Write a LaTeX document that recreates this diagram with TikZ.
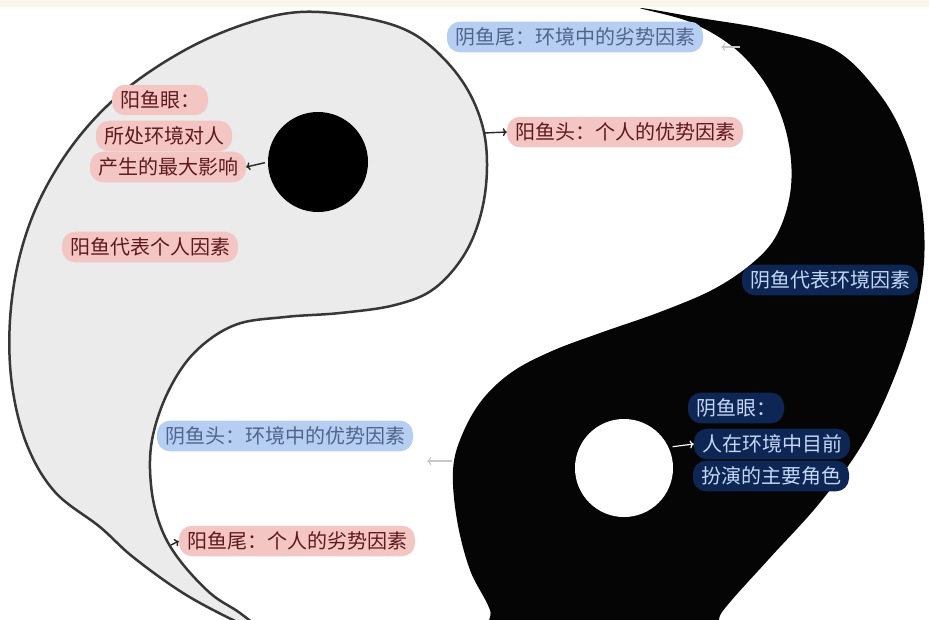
\documentclass[tikz,border=0pt]{standalone}
\usepackage{fontspec}
\setmainfont{Noto Sans CJK SC}
\usetikzlibrary{arrows.meta}
\definecolor{yangfill}{RGB}{235,235,235}
\definecolor{yangline}{RGB}{55,55,55}
\definecolor{yinfill}{RGB}{5,5,5}
\definecolor{pinkfill}{RGB}{243,198,196}
\definecolor{pinktext}{RGB}{95,25,30}
\definecolor{skyfill}{RGB}{182,206,242}
\definecolor{skytext}{RGB}{80,100,140}
\definecolor{navyfill}{RGB}{14,38,84}
\definecolor{navytext}{RGB}{195,215,245}
\definecolor{topband}{RGB}{250,246,236}
\begin{document}
\begin{tikzpicture}[x=1pt,y=-1pt,
    >={To[length=4pt,width=8pt]},
    label/.style={rounded corners=13pt, inner xsep=8pt, inner ysep=6pt,
      font=\fontsize{20}{24}\selectfont},
    pinkbox/.style={label, fill=pinkfill, text=pinktext},
    skybox/.style={label, fill=skyfill, text=skytext},
    navybox/.style={label, fill=navyfill, text=navytext},
    fisheye/.style={circle, inner sep=0pt, minimum size=#1},
    darkarrow/.style={->, line width=1.4pt, black!85},
    lightarrow/.style={->, line width=1.1pt, black!22}]
  \useasboundingbox (0,0) rectangle (929,619);
  \clip (0,0) rectangle (929,619);
  \fill[white] (0,0) rectangle (929,619);
  \fill[topband] (0,0) rectangle (929,7);
  % yang fish
  \draw[fill=yangfill, draw=yangline, line width=2.5pt]
    plot[smooth cycle, tension=0.6] coordinates {
      (300,12) (360,17) (410,32) (447,62) (473,100) (486,145) (484,200)
      (467,250) (435,288) (395,305) (340,313) (285,317) (235,325)
      (195,352) (168,392) (152,440) (151,485) (160,525) (178,558)
      (210,593) (240,613) (262,632) (233,620) (183,593) (133,557)
      (100,527) (55,492) (27,445) (12,385) (10,320) (20,255) (42,195)
      (78,138) (125,90) (185,50) (245,24)};
  % yin fish
  \fill[yinfill]
    plot[smooth cycle, tension=0.6] coordinates {
      (640,8) (700,18) (770,30) (835,50) (878,92) (905,140) (921,200)
      (924,262) (913,322) (890,388) (860,448) (818,505) (768,560)
      (722,612) (700,650) (500,650) (490,610) (470,570) (457,520)
      (453,470) (462,435) (482,400) (512,372) (552,351) (600,333)
      (660,312) (712,290) (750,265) (775,238) (789,200) (791,160)
      (782,118) (763,80) (733,47) (690,22)};
  \node[fisheye=100pt, fill=black] (yangEye) at (318,162) {};
  \node[fisheye=98pt, fill=white] (yinEye) at (624,468) {};
  % labels
  \node[pinkbox] (yangEyeA) at (160,100) {阳鱼眼：};
  \node[pinkbox] (yangEyeB) at (164,136) {所处环境对人};
  \node[pinkbox] (yangEyeC) at (168,167) {产生的最大影响};
  \node[skybox] (yinTailLbl) at (575,37) {阴鱼尾：环境中的劣势因素};
  \node[pinkbox] (yangHeadLbl) at (625,132) {阳鱼头：个人的优势因素};
  \node[pinkbox] (yangLbl) at (150,247) {阳鱼代表个人因素};
  \node[navybox] (yinLbl) at (830,280) {阴鱼代表环境因素};
  \node[skybox] (yinHeadLbl) at (285,436) {阴鱼头：环境中的优势因素};
  \node[navybox] (yinEyeA) at (736,408) {阴鱼眼：};
  \node[navybox] (yinEyeB) at (772,444) {人在环境中目前};
  \node[navybox] (yinEyeC) at (771,476) {扮演的主要角色};
  \node[pinkbox] (yangTailLbl) at (297,541) {阳鱼尾：个人的劣势因素};
  \coordinate (yinTail) at (740,47);
  \coordinate (yangHead) at (484,133);
  \coordinate (yinHead) at (452,461);
  \coordinate (yangTail) at (171,545);
  % arrows
  \draw[darkarrow, shorten <=3pt] (yangEye.west) to (yangEyeC.east);
  \draw[lightarrow, shorten >=18pt] (yinTail) to (yinTail -| yinTailLbl.east);
  \draw[darkarrow] (yangHead) to (yangHeadLbl.west);
  \draw[lightarrow, shorten >=14pt] (yinHead) to (yinHead -| yinHeadLbl.east);
  \draw[->, line width=1.2pt, white!85!skyfill, shorten <=4pt] (yinEye.25) to (yinEyeB.west);
  \draw[darkarrow] (yangTail) to (yangTailLbl.west);
\end{tikzpicture}
\end{document}
